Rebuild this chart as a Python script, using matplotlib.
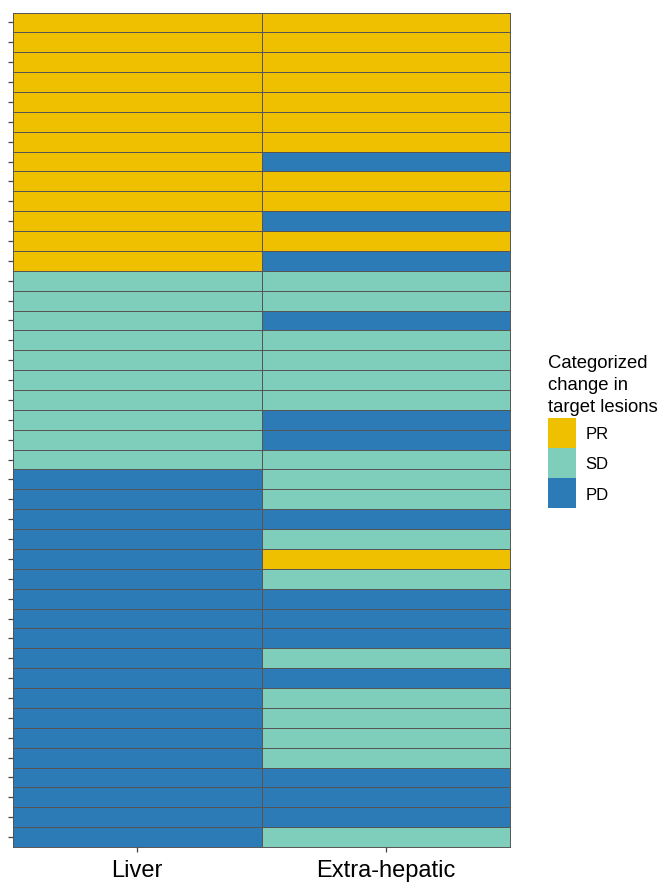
import numpy as np
import matplotlib.pyplot as plt
from matplotlib.colors import ListedColormap
from matplotlib.patches import Patch

plt.rcParams['font.family'] = ['Liberation Sans', 'DejaVu Sans']

# Response category per patient (top row first)
sites = ['Liver', 'Extra-hepatic']
categories = ['PR', 'SD', 'PD']
colors = ['#EFC000', '#7FCDBB', '#2C7BB6']

liver = ['PR'] * 13 + ['SD'] * 10 + ['PD'] * 19
extra_hepatic = [
    'PR', 'PR', 'PR', 'PR', 'PR', 'PR', 'PR', 'PD', 'PR', 'PR',
    'PD', 'PR', 'PD', 'SD', 'SD', 'PD', 'SD', 'SD', 'SD', 'SD',
    'PD', 'PD', 'SD', 'SD', 'SD', 'PD', 'SD', 'PR', 'SD', 'PD',
    'PD', 'PD', 'SD', 'PD', 'SD', 'SD', 'SD', 'SD', 'PD', 'PD',
    'PD', 'SD',
]

codes = np.array([[categories.index(a), categories.index(b)]
                  for a, b in zip(liver, extra_hepatic)])
n_rows = codes.shape[0]

fig = plt.figure(figsize=(6.68, 8.87), dpi=100)
ax = fig.add_axes([13 / 668, 1 - 848 / 887, (510 - 13) / 668, (848 - 13.5) / 887])

ax.pcolormesh(np.arange(3), np.arange(n_rows + 1), codes,
              cmap=ListedColormap(colors), vmin=-0.5, vmax=2.5,
              edgecolors='#555555', linewidth=0.7)
ax.set_xlim(0, 2)
ax.set_ylim(n_rows, 0)

ax.set_xticks([0.5, 1.5])
ax.set_xticklabels(sites, fontsize=17)
ax.set_yticks(np.arange(n_rows) + 0.5)
ax.set_yticklabels([])
ax.tick_params(axis='both', length=3.5, width=0.9, color='#444444')
ax.tick_params(axis='x', pad=5)
for s in ax.spines.values():
    s.set_color('#555555')
    s.set_linewidth(0.7)

# legend: title, then keys stacked with no gap
handles = [Patch(facecolor=c, edgecolor='none', label=l)
           for c, l in zip(colors, categories)]
leg = fig.legend(handles=handles, title='Categorized\nchange in\ntarget lesions',
                 loc='upper left', bbox_to_anchor=(533 / 668, 1 - 340 / 887),
                 frameon=False, fontsize=12, title_fontsize=13.3,
                 handlelength=1.7, handleheight=2.4, labelspacing=0,
                 handletextpad=0.55, alignment='left')
leg.get_title().set_linespacing(1.4)
leg._legend_box.sep = 2

fig.savefig('out.png', dpi=100)
